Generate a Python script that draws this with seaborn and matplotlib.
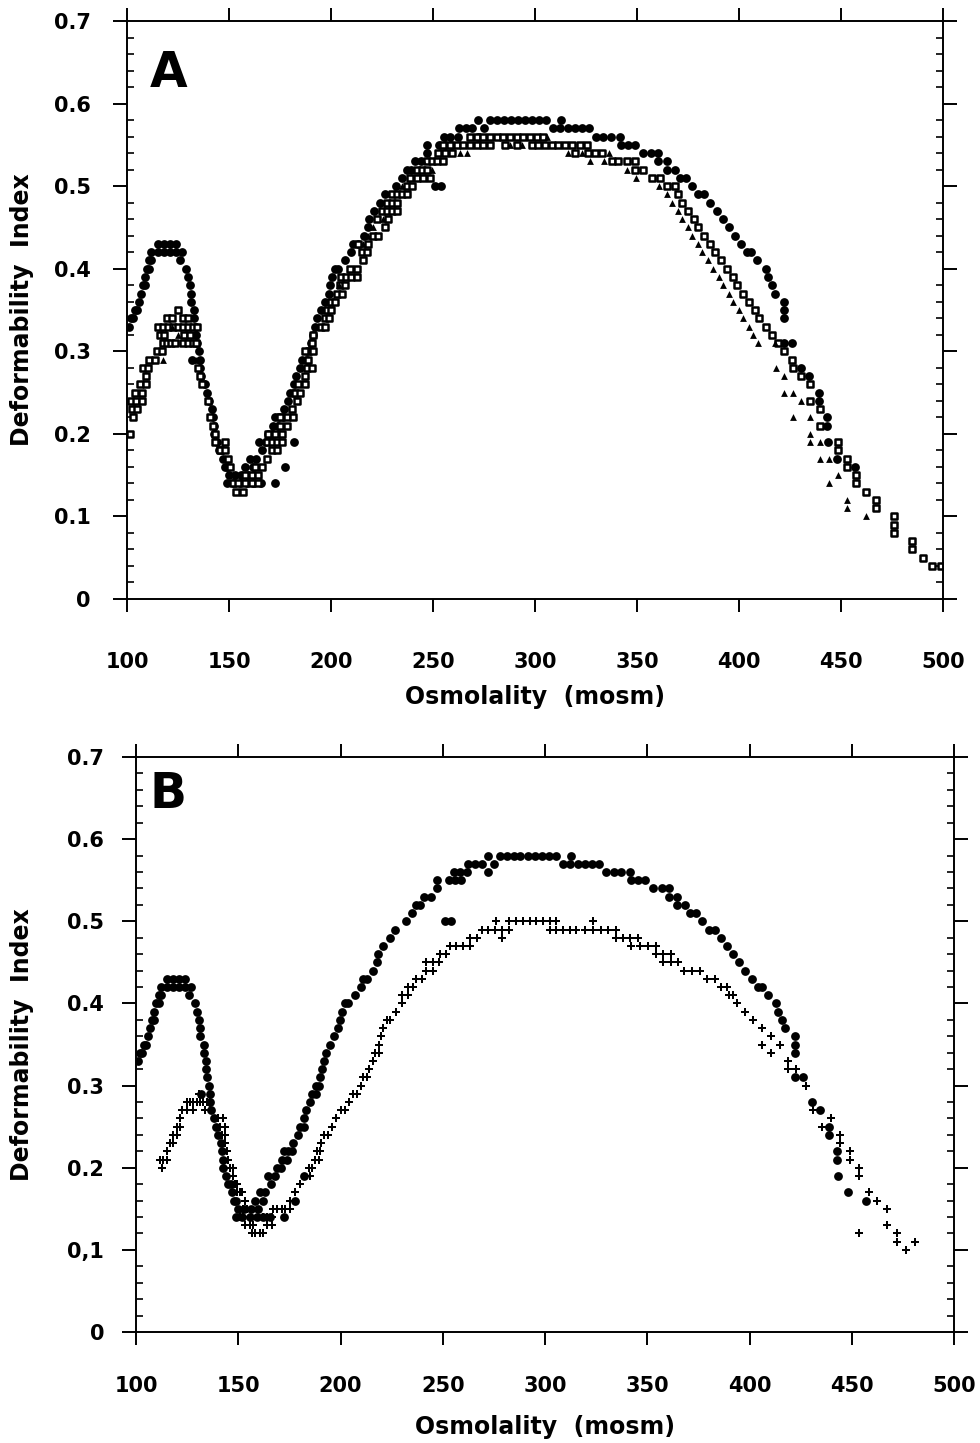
import numpy as np
import pandas as pd
import matplotlib
matplotlib.use("Agg")
import matplotlib.pyplot as plt
import seaborn as sns
from matplotlib.ticker import MultipleLocator

# control cells (filled circles) - same curve in both panels
ctrl_pts = [
    (101, .33), (102, .34), (103, .34), (104, .35), (105, .35), (106, .36), (107, .37), (108, .38),
    (109, .38), (109, .39), (110, .40), (111, .40), (111, .41), (112, .41),
    (112, .42), (115, .42), (118, .42), (121, .42), (124, .42), (127, .42),
    (115, .43), (118, .43), (121, .43), (124, .43),
    (126, .41), (129, .40), (130, .39), (131, .38), (131.5, .37), (131.5, .36), (133, .35), (133, .34),
    (134, .33), (134, .32), (134.5, .31), (135.5, .30), (132, .29), (136, .29), (136, .28), (136.5, .27),
    (138, .26), (139, .25), (140, .24), (141.5, .23), (142, .22), (142.5, .21), (142.5, .20), (144, .19),
    (145, .18), (146.5, .18), (147, .17), (148, .16), (149, .16), (150, .15), (153, .15),
    (149, .14), (152, .14), (155.5, .14), (159, .14), (162, .14), (165.5, .14), (172.5, .14),
    (156, .15), (159.5, .15), (158, .16), (162, .16), (160.5, .17), (163, .17), (166, .18), (164.5, .19),
    (168, .19), (169, .20), (171, .20), (171.5, .21), (174, .21), (172.5, .22), (174.5, .22), (176.5, .22),
    (177, .23), (179, .24), (180, .25), (182, .25), (182, .26), (183, .27), (185, .28), (186, .29),
    (188, .29), (188, .30), (189.5, .30), (190, .31), (191, .32), (192, .33), (193, .34), (195, .35),
    (197, .36), (199, .37), (199.5, .38), (200.5, .39), (202, .40), (203.5, .40), (207, .41), (210, .42),
    (211, .43), (213, .43), (216, .44), (218, .45), (218.5, .46), (221, .47), (224, .48), (226.5, .49),
    (232, .50), (235, .51), (237, .52), (239, .52), (241, .53), (244, .53), (247, .54), (247, .55),
    (253, .55), (256, .55), (259, .55), (255.5, .56), (258.5, .56), (262, .56), (272, .56),
    (262.5, .57), (266, .57), (269, .57), (275, .57),
    (272, .58), (278, .58), (281.5, .58), (285, .58), (288, .58), (291.5, .58), (295, .58),
    (298.5, .58), (302, .58), (305.5, .58), (312.5, .58),
    (177.5, .16), (182, .19), (251, .50), (254, .50),
    (309, .57), (312, .57), (316, .57), (319.5, .57), (323, .57), (326.5, .57),
    (330, .56), (333.5, .56), (337, .56), (341.5, .56), (342, .55), (345.5, .55), (349, .55),
    (353, .54), (357, .54), (360.5, .54), (360.5, .53), (364.5, .53), (364.5, .52), (368.5, .52),
    (371, .51), (374, .51), (377, .50), (380, .49), (383, .49), (386, .48), (389, .47), (392, .46),
    (395, .45), (398, .44), (401, .43), (404, .42), (406, .42), (409, .41), (413, .40), (414, .39),
    (416, .38), (417.5, .37), (422, .36), (422, .35), (422, .34), (422, .31), (426, .31),
    (430.5, .28), (434.5, .27), (439, .25), (439, .24), (443, .22), (443, .21), (443.5, .19),
    (448, .17), (457, .16),
]

# panel A, open squares
sq_pts = [
    (101.5, .20), (103, .22), (102.5, .23), (105, .23), (102, .24), (104.5, .24), (107.5, .24),
    (104, .25), (107.5, .25), (106.5, .26), (109.5, .26), (109.5, .27), (108, .28), (110.5, .28),
    (111, .29), (113.5, .29), (114.5, .30), (117, .30),
    (117.5, .31), (119.5, .31), (121.5, .31), (123.5, .31), (127.5, .31), (130, .31), (132.5, .31), (134, .31),
    (116, .32), (118, .32), (128, .32), (131, .32),
    (115, .33), (117.5, .33), (120, .33), (122.5, .33), (125, .33), (127.5, .33), (130, .33), (132.5, .33), (134.5, .33),
    (119.5, .34), (122, .34), (127.5, .34), (130, .34), (125, .35),
    (135, .28), (135.8, .27), (136.6, .26), (139.9, .24), (140.7, .22), (142.3, .21), (143.1, .20),
    (143.1, .19), (148, .19), (145.5, .18), (148, .18), (149.6, .17), (150.5, .16),
    (152.1, .14), (154.6, .14), (157.8, .14), (161.1, .14), (164.4, .14), (153.5, .13), (157, .13),
    (157.8, .15), (161.1, .15), (164.4, .15), (162.7, .16), (166, .16), (168.4, .17),
    (170.9, .18), (173.4, .18), (168.4, .19), (170.9, .19), (173.4, .19), (175.8, .19),
    (169.2, .20), (172.5, .20), (175.8, .20), (175, .21), (178.3, .21),
    (175, .22), (178.3, .22), (181.5, .22), (180.7, .23), (183.1, .24), (182.3, .25), (184.6, .25),
    (184, .26), (187.2, .26), (187.2, .27), (188, .28), (190.5, .28), (188.8, .29), (187.2, .30), (191.3, .30),
    (190.5, .31), (191.3, .32), (195, .33), (197, .33), (197, .34), (199, .34), (198, .35), (200, .35),
    (200, .36), (202, .36), (202.8, .37), (205.2, .37), (204.5, .38), (207, .38),
    (205, .39), (207.5, .39), (210, .39), (212.5, .39), (209.3, .40), (212.6, .40), (215.8, .41),
    (215, .42), (217.5, .42), (213.4, .43), (218.3, .43), (220.8, .44), (223.2, .44), (226.5, .45),
    (222.4, .46), (228, .46), (224.8, .47), (227.3, .47), (229.7, .47), (232.2, .47),
    (227.3, .48), (229.7, .48), (232.2, .48), (229.7, .49), (232.2, .49), (234.6, .49), (237.1, .49),
    (237.1, .50), (239.5, .50), (238.7, .51), (242, .51), (245.2, .51), (248.5, .51),
    (242, .52), (244.5, .52), (247, .52), (247, .53), (249.5, .53), (252, .53), (255, .53),
    (252.6, .54), (255.9, .54), (259.2, .54),
    (255.1, .55), (258.3, .55), (261.6, .55), (264.9, .55), (268.1, .55), (271.4, .55), (274.7, .55),
    (277.9, .55), (285.3, .55), (291, .55), (298.3, .55), (301.6, .55), (304.9, .55), (308.2, .55),
    (311.4, .55), (314.7, .55), (318, .55), (322.1, .55), (325.3, .55),
    (268.1, .56), (271.4, .56), (274.7, .56), (277.9, .56), (281.2, .56), (284.5, .56), (287.7, .56),
    (291, .56), (294.3, .56), (297.5, .56), (300.8, .56), (304.1, .56),
    (319.6, .54), (326.1, .54), (329.4, .54), (332.7, .54), (337.6, .53), (340.8, .53), (344.9, .53), (349, .53),
    (349, .52), (353.1, .52), (357.2, .51), (361.3, .51), (364.5, .50), (368.6, .50),
    (370, .49), (372, .48), (375, .47), (378, .46), (380, .45), (383, .44), (386, .43), (388, .42),
    (391, .41), (394, .40), (397, .39), (399, .38), (402, .37), (405, .36), (408, .35), (410, .34),
    (413, .33), (416, .32), (419, .31),
    (422, .30), (426, .29), (426.5, .28), (430.5, .27), (435, .26), (435, .24), (439.5, .23), (439.5, .21),
    (448.5, .19), (448.5, .18), (453, .17), (453, .16), (457.5, .15), (457.5, .14), (462, .13),
    (467, .12), (467, .11), (476, .10), (476, .09), (476, .08), (485, .07), (485, .06), (490, .05),
    (494.5, .04), (499, .04),
]

# panel A, filled triangles
tri_pts = [
    (117.8, .29), (134, .29), (125.2, .32), (122, .33),
    (204, .38), (215.8, .43), (218.3, .44), (220.8, .45), (225.6, .46), (234.6, .50), (249.4, .52),
    (245.3, .53), (263.3, .54), (266.6, .54), (287.7, .55), (293.4, .55), (305.7, .56),
    (316, .54), (322.9, .54), (336.4, .54), (327, .53), (334, .53), (344.9, .52), (349.5, .51),
    (361, .50), (364.9, .49),
    (367, .48), (370, .47), (372, .46), (375, .45), (377, .44), (380, .43), (382, .42), (385, .41),
    (387, .40), (390, .39), (392, .38), (395, .37), (397, .36), (400, .35), (402, .34), (405, .33),
    (407, .32), (409.5, .31), (417.5, .31), (418, .28), (422, .27), (422, .25), (426.5, .25),
    (430.5, .24), (426.5, .22), (435, .22), (435, .20), (435, .19), (439.5, .19), (439.5, .17),
    (444, .17), (448.5, .15), (444, .14), (453, .12), (453, .11), (462, .10),
]

# panel B, patient cells (crosses)
plus_pts = [
    (112.6, .20), (111.7, .21), (113.3, .21), (115, .21), (115, .22), (116.6, .23), (118.2, .23),
    (118.2, .24), (119.8, .24), (119.8, .25), (121.5, .25), (121.5, .26), (122.3, .27), (124.7, .27),
    (128, .27), (124.8, .28), (126.4, .28), (128, .28), (129.7, .28), (131.3, .28), (132.9, .28),
    (134.5, .28), (136.2, .28), (130.6, .29), (133.7, .27), (136.2, .27),
    (140.3, .26), (142.7, .26), (141.1, .25), (143.6, .25), (141.9, .24), (143.6, .24), (143.6, .23),
    (144.4, .22), (145.2, .21), (146, .20), (147.6, .20), (147.6, .19), (148.4, .18), (149.2, .18),
    (149.2, .17), (150.9, .17), (151.7, .17), (153.3, .16), (152.5, .15), (154.1, .15),
    (150.9, .14), (152.5, .14), (153.5, .13), (155.9, .13), (157.4, .13),
    (156.6, .12), (158.2, .12), (160.6, .12), (162.2, .12),
    (162.2, .14), (163.9, .14), (166.3, .14), (163.9, .13), (166.3, .13),
    (167.1, .15), (168.8, .15), (171.2, .15), (172.9, .15), (175.3, .15), (175.3, .16), (177.8, .17),
    (180.3, .18), (185.1, .19), (184.4, .20), (186, .20), (187.7, .21), (189.3, .21), (188.5, .22),
    (190.1, .22), (190.5, .23), (192, .24), (194, .24), (196, .25), (198, .26), (200, .27), (202, .27),
    (204, .28), (206, .29), (208, .29), (210, .30), (211, .31), (213, .31), (214, .32), (216, .33),
    (217, .34), (219, .34), (219, .35), (220, .36), (221, .37), (222.6, .38), (224, .38), (227, .39),
    (230.3, .40), (230.3, .41), (233.2, .41), (233.2, .42), (235.6, .42), (236.9, .43), (239.7, .43),
    (241.7, .44), (245, .44), (241.7, .45), (245, .45), (248.2, .45), (248.6, .46), (251.8, .46),
    (253.5, .47), (256.7, .47), (260, .47), (263.3, .47), (263.3, .48), (266.5, .48), (279.2, .48),
    (269, .49), (272.2, .49), (275.4, .49), (279.2, .49), (282.4, .49),
    (276.2, .50), (282.4, .50), (286, .50), (289.3, .50), (292.5, .50), (295.8, .50), (299, .50),
    (302.3, .50), (305.6, .50), (323.5, .50),
    (302.3, .49), (305.6, .49), (308.8, .49), (312.1, .49), (315.3, .49), (319.4, .49), (323.5, .49),
    (327.6, .49), (330.8, .49), (334.9, .49),
    (334.9, .48), (338.1, .48), (341.4, .48), (345.5, .48), (342.2, .47), (346.3, .47), (350.4, .47),
    (354.5, .47), (354.5, .46), (357.7, .46), (361.8, .46), (357.7, .45), (361.8, .45), (365, .45),
    (368, .44), (372, .44), (376, .44), (379, .43), (383, .43), (386, .42), (389, .42), (390, .41),
    (392, .41), (393.7, .40), (397.8, .39), (401.9, .38), (406.3, .37), (410.5, .36), (406.3, .35),
    (415, .35), (410.5, .34), (418.6, .33), (418.6, .32), (422.6, .32), (427.5, .30), (431.2, .27),
    (439.9, .26), (435.5, .25), (444.3, .24), (444.3, .23), (448.9, .22), (448.9, .21), (453.6, .20),
    (453.6, .19), (458.3, .17), (462.5, .16), (467.1, .15), (467.1, .13), (453.6, .12), (472, .12),
    (472, .11), (481, .11), (476.4, .10),
]

x_ticks = [100, 150, 200, 250, 300, 350, 400, 450, 500]
y_ticks = [0, 0.1, 0.2, 0.3, 0.4, 0.5, 0.6, 0.7]
y_labels_a = ["0", "0.1", "0.2", "0.3", "0.4", "0.5", "0.6", "0.7"]
y_labels_b = ["0", "0,1", "0.2", "0.3", "0.4", "0.5", "0.6", "0.7"]


def to_df(pts):
    return pd.DataFrame(pts, columns=["osm", "di"])


sns.set_theme(style="ticks")
plt.rcParams["font.family"] = ["DejaVu Sans"]
plt.rcParams["font.weight"] = "bold"
plt.rcParams["text.color"] = "black"
plt.rcParams["axes.labelcolor"] = "black"
plt.rcParams["xtick.color"] = "black"
plt.rcParams["ytick.color"] = "black"

fig = plt.figure(figsize=(9.8, 14.43), dpi=100)
ax_a = fig.add_axes([0.1296, 0.5849, 0.8327, 0.4005])
ax_b = fig.add_axes([0.1388, 0.0769, 0.8347, 0.3985])

ctrl = to_df(ctrl_pts)

# panel A
sns.scatterplot(data=ctrl, x="osm", y="di", ax=ax_a, marker="o", s=40,
                color="black", edgecolor="black", linewidth=0, legend=False)
sns.scatterplot(data=to_df(sq_pts), x="osm", y="di", ax=ax_a, marker="s", s=22,
                color="white", edgecolor="black", linewidth=1.8, legend=False)
sns.scatterplot(data=to_df(tri_pts), x="osm", y="di", ax=ax_a, marker="^", s=24,
                color="black", edgecolor="black", linewidth=0, legend=False)

# panel B
sns.scatterplot(data=ctrl, x="osm", y="di", ax=ax_b, marker="o", s=40,
                color="black", edgecolor="black", linewidth=0, legend=False)
sns.scatterplot(data=to_df(plus_pts), x="osm", y="di", ax=ax_b, marker="P", s=32,
                color="black", edgecolor="black", linewidth=0, legend=False)

for ax, ylabs, letter, ypad, xpad, lx, ly, ty in [
    (ax_a, y_labels_a, "A", 16, 29, -0.129, -0.170, 0.952),
    (ax_b, y_labels_b, "B", 13, 22, -0.139, -0.165, 0.978),
]:
    ax.set_xlim(100, 500)
    ax.set_ylim(0, 0.7)
    ax.set_xticks(x_ticks)
    ax.set_xticklabels([str(v) for v in x_ticks])
    ax.set_yticks(y_ticks)
    ax.set_yticklabels(ylabs)
    ax.yaxis.set_minor_locator(MultipleLocator(0.02))
    for s in ax.spines.values():
        s.set_visible(True)
        s.set_linewidth(1.4)
        s.set_color("black")
    ax.tick_params(axis="x", which="major", direction="out", length=9.5, width=1.4,
                   top=True, bottom=True, labelsize=15, pad=xpad, colors="black")
    ax.tick_params(axis="y", which="major", direction="out", length=10, width=1.4,
                   left=True, right=True, labelsize=15, pad=ypad, colors="black")
    ax.tick_params(axis="y", which="minor", direction="in", length=5, width=1.2,
                   left=True, right=True)
    for lab in ax.get_xticklabels() + ax.get_yticklabels():
        lab.set_fontweight("bold")
    ax.set_xlabel("Osmolality  (mosm)", fontsize=17, fontweight="bold", color="black")
    ax.set_ylabel("Deformability  Index", fontsize=17, fontweight="bold", color="black")
    ax.xaxis.set_label_coords(0.5, ly)
    ax.xaxis.label.set_va("center")
    ax.yaxis.set_label_coords(lx, 0.5)
    ax.yaxis.label.set_va("center")
    ax.text(0.028 if letter == "A" else 0.017, ty, letter, transform=ax.transAxes,
            fontsize=35, fontweight="bold", va="top", ha="left", color="black")
    ax.grid(False)
    ax.set_facecolor("white")

fig.savefig("out.png", dpi=100, facecolor="white")
